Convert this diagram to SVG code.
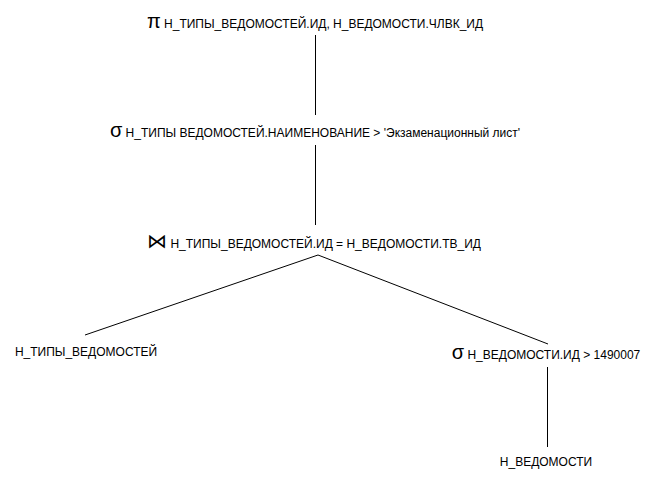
<svg xmlns="http://www.w3.org/2000/svg" width="670" height="482" viewBox="0 0 670 482">
  <style>
    .lbl { font-family: "Liberation Sans", Arial, sans-serif; font-size: 12px; fill: #000; }
    .op { font-size: 20px; }
    .edge { stroke: #000; stroke-width: 1; fill: none; }
  </style>
  <rect width="670" height="482" fill="#fff"/>
  <g id="connectors">
    <line class="edge" x1="315.5" y1="35" x2="315.5" y2="115"/>
    <line class="edge" x1="315.5" y1="145" x2="315.5" y2="225"/>
    <line class="edge" x1="318" y1="255" x2="85" y2="335"/>
    <line class="edge" x1="318" y1="255" x2="548" y2="344"/>
    <line class="edge" x1="547.5" y1="367" x2="547.5" y2="447"/>
  </g>
  <g id="projection">
    <text class="lbl" x="315" y="28" text-anchor="middle"><tspan class="op">π</tspan> Н_ТИПЫ_ВЕДОМОСТЕЙ.ИД, Н_ВЕДОМОСТИ.ЧЛВК_ИД</text>
  </g>
  <g id="selection-name">
    <text class="lbl" x="315" y="137" text-anchor="middle"><tspan class="op">σ</tspan> Н_ТИПЫ ВЕДОМОСТЕЙ.НАИМЕНОВАНИЕ &gt; 'Экзаменационный лист'</text>
  </g>
  <g id="join">
    <text class="lbl" x="314" y="248" text-anchor="middle"><tspan class="op">⋈</tspan> Н_ТИПЫ_ВЕДОМОСТЕЙ.ИД = Н_ВЕДОМОСТИ.ТВ_ИД</text>
  </g>
  <g id="table-types">
    <text class="lbl" x="86" y="356" text-anchor="middle">Н_ТИПЫ_ВЕДОМОСТЕЙ</text>
  </g>
  <g id="selection-id">
    <text class="lbl" x="546" y="359" text-anchor="middle"><tspan class="op">σ</tspan> Н_ВЕДОМОСТИ.ИД &gt; 1490007</text>
  </g>
  <g id="table-sheets">
    <text class="lbl" x="546" y="466" text-anchor="middle">Н_ВЕДОМОСТИ</text>
  </g>
</svg>
